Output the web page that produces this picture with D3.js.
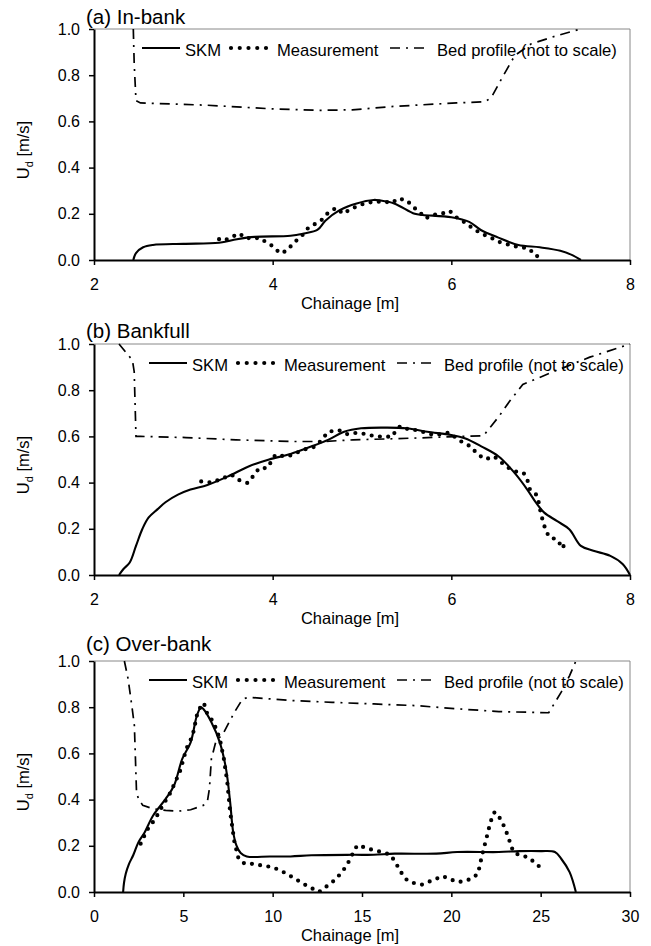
<!DOCTYPE html>
<html>
<head>
<meta charset="utf-8">
<script src="https://cdn.jsdelivr.net/npm/d3@7"></script>
<style>
  body { margin: 0; background: #fff; }
  svg text { font-family: "Liberation Sans", Arial, sans-serif; fill: #000; }
</style>
</head>
<body>
<script>
// page size
const width = 651;
const height = 946;

// ---- data: [chainage (m), Ud (m/s)] ----
const inBankSkm = [[2.44,0],[2.47,0.03],[2.55,0.055],[2.66,0.065],[3.0,0.07],[3.4,0.075],[3.6,0.09],[3.8,0.1],
  [4.2,0.105],[4.35,0.115],[4.5,0.13],[4.59,0.17],[4.75,0.216],[4.94,0.245],[5.13,0.26],[5.2,0.258],[5.36,0.245],
  [5.59,0.2],[5.68,0.195],[6.0,0.185],[6.2,0.165],[6.33,0.13],[6.52,0.098],[6.75,0.065],[6.99,0.055],[7.22,0.04],
  [7.36,0.02],[7.45,0]];
const inBankMeas = [[3.4,0.09],[3.45,0.083],[3.53,0.098],[3.63,0.115],[3.69,0.095],[3.86,0.095],[3.93,0.076],
  [4.01,0.058],[4.08,0.029],[4.16,0.04],[4.23,0.072],[4.33,0.106],[4.4,0.14],[4.47,0.155],[4.54,0.17],[4.61,0.2],
  [4.71,0.226],[4.79,0.2],[4.87,0.22],[4.99,0.24],[5.13,0.253],[5.26,0.252],[5.34,0.247],[5.4,0.266],[5.5,0.259],
  [5.57,0.23],[5.64,0.21],[5.71,0.18],[5.8,0.195],[5.89,0.2],[5.98,0.213],[6.06,0.184],[6.13,0.168],[6.2,0.148],
  [6.28,0.127],[6.36,0.11],[6.44,0.098],[6.52,0.08],[6.61,0.07],[6.7,0.06],[6.8,0.055],[6.88,0.046],[6.94,0.017],
  [7.03,0.017]];
const inBankBed = [[2.44,1.0],[2.45,0.85],[2.47,0.69],[2.52,0.68],[3.27,0.67],[3.96,0.655],[4.52,0.648],[4.89,0.65],
  [5.36,0.665],[6.06,0.68],[6.38,0.685],[6.45,0.705],[6.57,0.79],[6.71,0.885],[6.89,0.935],[7.17,0.97],[7.45,1.0]];

const bankfullSkm = [[2.28,0],[2.33,0.026],[2.4,0.054],[2.47,0.126],[2.54,0.198],[2.61,0.248],[2.71,0.284],
  [2.8,0.315],[2.94,0.348],[3.08,0.37],[3.27,0.39],[3.5,0.427],[3.73,0.47],[3.96,0.5],[4.2,0.524],[4.43,0.556],
  [4.62,0.585],[4.8,0.62],[4.99,0.635],[5.27,0.638],[5.5,0.635],[5.73,0.62],[6.0,0.606],[6.15,0.592],[6.34,0.556],
  [6.53,0.513],[6.71,0.441],[6.85,0.37],[6.95,0.312],[7.04,0.27],[7.18,0.234],[7.32,0.198],[7.45,0.126],
  [7.59,0.105],[7.78,0.083],[7.92,0.047],[8.0,0.0]];
const bankfullMeas = [[3.2,0.405],[3.32,0.4],[3.45,0.42],[3.54,0.434],[3.61,0.413],[3.72,0.398],[3.78,0.427],
  [3.85,0.463],[3.94,0.463],[4.03,0.52],[4.15,0.513],[4.22,0.52],[4.34,0.542],[4.48,0.556],[4.55,0.585],[4.62,0.62],
  [4.74,0.627],[4.83,0.61],[4.95,0.616],[5.04,0.61],[5.13,0.602],[5.22,0.599],[5.34,0.599],[5.38,0.627],
  [5.43,0.645],[5.52,0.63],[5.62,0.627],[5.71,0.616],[5.8,0.606],[5.9,0.61],[5.97,0.616],[6.06,0.592],[6.13,0.573],
  [6.22,0.556],[6.29,0.524],[6.38,0.501],[6.48,0.513],[6.57,0.484],[6.66,0.458],[6.75,0.444],[6.81,0.441],
  [6.85,0.413],[6.88,0.37],[6.95,0.348],[6.98,0.312],[7.0,0.27],[7.03,0.226],[7.06,0.19],[7.1,0.162],[7.18,0.155],
  [7.25,0.115],[7.27,0.15]];
const bankfullBed = [[2.28,1.0],[2.43,0.93],[2.45,0.88],[2.47,0.6],[2.52,0.6],[3.03,0.595],[3.59,0.585],[4.2,0.578],
  [4.57,0.578],[4.9,0.585],[5.36,0.59],[5.83,0.596],[6.36,0.603],[6.53,0.685],[6.66,0.756],[6.8,0.825],[7.13,0.878],
  [7.55,0.943],[8.0,1.0]];

const overBankSkm = [[1.63,0],[1.68,0.04],[1.78,0.08],[1.95,0.12],[2.2,0.16],[2.49,0.216],[2.84,0.259],[3.31,0.331],
  [4.01,0.403],[4.48,0.461],[4.94,0.576],[5.41,0.648],[5.76,0.764],[5.99,0.8],[6.11,0.793],[6.57,0.735],[7.04,0.648],
  [7.39,0.533],[7.62,0.389],[7.79,0.259],[7.97,0.202],[8.21,0.169],[8.55,0.154],[9.84,0.154],[11.0,0.154],
  [12.17,0.159],[14.5,0.161],[15.66,0.161],[16.83,0.166],[19.16,0.166],[20.33,0.173],[22.66,0.173],[23.82,0.177],
  [25.0,0.177],[25.8,0.173],[26.15,0.144],[26.62,0.086],[26.97,0]];
const overBankMeas = [[2.61,0.209],[2.96,0.267],[3.43,0.317],[3.85,0.375],[4.24,0.425],[4.59,0.483],[4.83,0.526],
  [5.17,0.62],[5.52,0.677],[5.76,0.764],[5.99,0.807],[6.15,0.818],[6.34,0.771],[6.69,0.735],[7.04,0.663],
  [7.27,0.576],[7.46,0.476],[7.62,0.346],[7.86,0.216],[8.09,0.144],[8.44,0.122],[8.9,0.122],[9.37,0.115],
  [9.95,0.108],[10.42,0.094],[10.77,0.079],[11.24,0.058],[11.7,0.036],[12.17,0.017],[12.59,0.0],[12.98,0.022],
  [13.45,0.05],[13.8,0.079],[14.15,0.115],[14.38,0.151],[14.73,0.202],[15.2,0.192],[15.66,0.18],[16.13,0.173],
  [16.6,0.161],[16.88,0.127],[17.18,0.086],[17.53,0.05],[18.0,0.036],[18.35,0.032],[18.93,0.05],[19.51,0.069],
  [19.86,0.058],[20.33,0.043],[20.68,0.046],[21.14,0.058],[21.49,0.079],[21.72,0.159],[21.96,0.231],[22.19,0.303],
  [22.42,0.346],[22.66,0.327],[22.89,0.295],[23.12,0.252],[23.47,0.173],[23.82,0.159],[24.29,0.151],[24.76,0.122],
  [25.2,0.09]];
const overBankBed = [[1.7,1.0],[1.91,0.922],[2.14,0.793],[2.26,0.72],[2.38,0.432],[2.49,0.403],[2.73,0.375],
  [3.31,0.36],[4.01,0.353],[4.71,0.35],[5.41,0.356],[6.11,0.375],[6.34,0.389],[6.46,0.447],[6.57,0.576],[6.81,0.648],
  [7.27,0.692],[7.86,0.778],[8.32,0.836],[8.67,0.843],[11.0,0.829],[13.33,0.821],[15.66,0.814],[18.0,0.807],
  [20.33,0.793],[22.66,0.781],[25.45,0.776],[26.15,0.865],[26.62,0.937],[26.97,1.0]];

// ---- axis / text content ----
const panelTitles = ['(a) In-bank', '(b) Bankfull', '(c) Over-bank'];
const xDomains = [[2, 8], [2, 8], [0, 30]];
const xTickValues = [[2, 4, 6, 8], [2, 4, 6, 8], [0, 5, 10, 15, 20, 25, 30]];
const yTickValues = [0, 0.2, 0.4, 0.6, 0.8, 1.0];
const legendLabels = ['SKM', 'Measurement', 'Bed profile (not to scale)'];

const skmSeries = [inBankSkm, bankfullSkm, overBankSkm];
const measSeries = [inBankMeas, bankfullMeas, overBankMeas];
const bedSeries = [inBankBed, bankfullBed, overBankBed];

// layout
const plotLeft = 94, plotRight = 630, plotH = 231;
const panelTop = [29, 344, 661];
const titleY = [24, 338, 651];
const legendLeft = [142, 149, 149];

const svg = d3.select('body').append('svg')
  .attr('width', width)
  .attr('height', height);

svg.append('rect').attr('width', width).attr('height', height).attr('fill', '#fff');

panelTitles.forEach((title, i) => {
  const top = panelTop[i];
  const bottom = top + plotH;

  const x = d3.scaleLinear().domain(xDomains[i]).range([plotLeft, plotRight]);
  const y = d3.scaleLinear().domain([0, 1]).range([bottom, top]);

  const g = svg.append('g');

  // clip to plot area
  const clipId = 'clip' + i;
  svg.append('clipPath').attr('id', clipId)
    .append('rect')
    .attr('x', plotLeft).attr('y', top - 2)
    .attr('width', plotRight - plotLeft + 1).attr('height', plotH + 2);

  // grey frame on top and right
  g.append('path')
    .attr('d', `M${plotLeft},${top}H${plotRight}V${bottom}`)
    .attr('fill', 'none')
    .attr('stroke', '#888')
    .attr('stroke-width', 1);

  const line = d3.line().x(d => x(d[0])).y(d => y(d[1]));
  const lines = g.append('g').attr('clip-path', `url(#${clipId})`);

  // bed profile (dash-dot)
  lines.append('path')
    .datum(bedSeries[i])
    .attr('d', line)
    .attr('fill', 'none')
    .attr('stroke', '#000')
    .attr('stroke-width', 1.7)
    .attr('stroke-dasharray', '10,6,2,6');

  // measurement (round dots along the line)
  lines.append('path')
    .datum(measSeries[i])
    .attr('d', line)
    .attr('fill', 'none')
    .attr('stroke', '#000')
    .attr('stroke-width', 4.2)
    .attr('stroke-linecap', 'round')
    .attr('stroke-dasharray', '0,8.3');

  // SKM (solid)
  lines.append('path')
    .datum(skmSeries[i])
    .attr('d', line.curve(d3.curveCatmullRom))
    .attr('fill', 'none')
    .attr('stroke', '#000')
    .attr('stroke-width', 2.1);
  line.curve(d3.curveLinear);

  // axes
  const yAxis = d3.axisLeft(y)
    .tickValues(yTickValues)
    .tickFormat(d3.format('.1f'))
    .tickSize(5)
    .tickSizeOuter(0)
    .tickPadding(9);
  const yG = g.append('g').attr('transform', `translate(${plotLeft},0)`).call(yAxis);

  const xAxis = d3.axisBottom(x)
    .tickValues(xTickValues[i])
    .tickFormat(d3.format('d'))
    .tickSize(5)
    .tickSizeOuter(0);
  const xG = g.append('g').attr('transform', `translate(0,${bottom})`).call(xAxis);
  xG.selectAll('.tick text').attr('y', 30).attr('dy', 0);

  [yG, xG].forEach(a => {
    a.select('.domain').attr('stroke', '#000').attr('stroke-width', 2);
    a.selectAll('.tick line').attr('stroke', '#000').attr('stroke-width', 1.5);
    a.selectAll('.tick text').attr('font-size', 16).attr('fill', '#000')
      .style('font-family', '"Liberation Sans", Arial, sans-serif');
  });

  // panel title
  g.append('text')
    .attr('x', 86)
    .attr('y', titleY[i])
    .attr('font-size', 20.5)
    .text(title);

  // axis titles
  g.append('text')
    .attr('x', 350)
    .attr('y', bottom + 49)
    .attr('text-anchor', 'middle')
    .attr('font-size', 16.5)
    .text('Chainage [m]');

  const yLab = g.append('text')
    .attr('transform', `translate(28.5,${top + 121}) rotate(-90)`)
    .attr('text-anchor', 'middle')
    .attr('font-size', 16.5);
  yLab.append('tspan').text('U');
  yLab.append('tspan').attr('font-size', 11).attr('dy', 4).text('d');
  yLab.append('tspan').attr('dy', -4).text(' [m/s]');

  // legend
  const lg = g.append('g').attr('transform', `translate(${legendLeft[i]},${top + 19})`);
  lg.append('line').attr('x1', 0).attr('x2', 38).attr('stroke', '#000').attr('stroke-width', 2.1);
  lg.append('text').attr('x', 43).attr('y', 8).attr('font-size', 16.6).text(legendLabels[0]);
  lg.append('line').attr('x1', 89).attr('x2', 125)
    .attr('stroke', '#000').attr('stroke-width', 4.2)
    .attr('stroke-linecap', 'round').attr('stroke-dasharray', '0,8.75');
  lg.append('text').attr('x', 135).attr('y', 8).attr('font-size', 16.6).text(legendLabels[1]);
  lg.append('line').attr('x1', 248).attr('x2', 283)
    .attr('stroke', '#000').attr('stroke-width', 1.7).attr('stroke-dasharray', '10,6,2,6');
  lg.append('text').attr('x', 295).attr('y', 8).attr('font-size', 16.6).text(legendLabels[2]);
});
</script>
</body>
</html>
